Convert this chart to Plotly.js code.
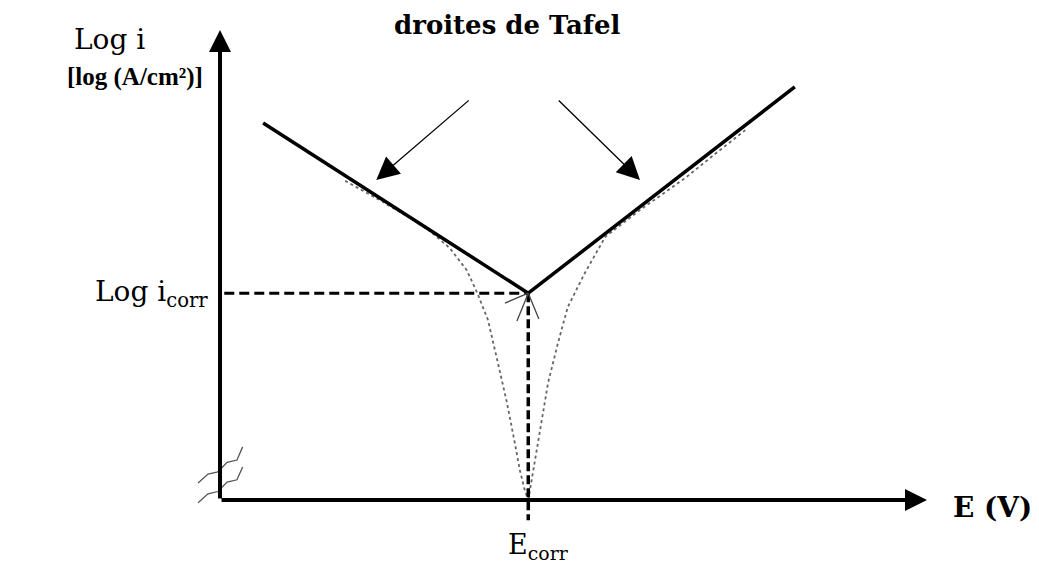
<!DOCTYPE html>
<html>
<head>
<meta charset="utf-8">
<script src="https://cdn.plot.ly/plotly-3.0.1.min.js"></script>
<style>
  html, body { margin: 0; padding: 0; background: #fff; }
  #plot { width: 1039px; height: 568px; }
</style>
</head>
<body>
<div id="plot"></div>
<script>
// corrosion point (arbitrary units, schematic)
let eCorr = 4.36;
let logICorr = 4.40;

// Tafel straight lines: cathodic (left) and anodic (right)
let arrCathE = [0.61, eCorr];
let arrCathLogI = [8.02, logICorr];
let arrAnodE = [eCorr, 8.13];
let arrAnodLogI = [logICorr, 8.79];

let arrMeasCathE = [1.77, 2.26, 2.69, 2.97, 3.25, 3.49, 3.64, 3.79, 3.93, 4.06, 4.17, 4.24, 4.31, 4.36];
let arrMeasCathLogI = [6.79, 6.38, 6.00, 5.72, 5.36, 4.89, 4.40, 3.83, 2.92, 2.06, 1.21, 0.64, 0.21, 0.00];
let arrMeasAnodE = [4.36, 4.41, 4.53, 4.64, 4.78, 4.92, 5.16, 5.45, 5.94, 6.58, 7.00, 7.43];
let arrMeasAnodLogI = [0.00, 0.43, 1.49, 2.49, 3.34, 4.11, 4.83, 5.60, 6.17, 6.85, 7.36, 7.87];

// axis ends
let axisLen = [10, 10];

// "droites de Tafel" pointer arrows: [tailE, tailLogI, tipE, tipLogI]
let arrPointerLeft = [3.54, 8.53, 2.21, 6.81];
let arrPointerRight = [4.77, 8.53, 5.94, 6.81];

// small strokes at the corrosion point
let arrVertexTicks = [[4.03, 4.19], [4.20, 3.81], [4.51, 3.85]];

// break marks on the y axis
let arrBreakE = [-0.31, -0.17, -0.03, 0.10, 0.24, 0.32];
let arrBreak1 = [0.36, 0.55, 0.60, 0.80, 0.85, 1.13];
let arrBreak2 = [-0.06, 0.13, 0.18, 0.38, 0.43, 0.70];

let fontSerif = "DejaVu Serif";

let traces = [
  {x: arrMeasCathE, y: arrMeasCathLogI, mode: "lines",
   line: {color: "#666", width: 1.8, dash: "dot"}},
  {x: arrMeasAnodE, y: arrMeasAnodLogI, mode: "lines",
   line: {color: "#666", width: 1.8, dash: "dot"}},
  {x: [0.06, eCorr], y: [logICorr, logICorr], mode: "lines",
   line: {color: "#000", width: 3, dash: "10px,5px"}},
  {x: [eCorr, eCorr], y: [logICorr, -0.43], mode: "lines",
   line: {color: "#000", width: 3.5, dash: "9px,4px"}},
  {x: arrCathE, y: arrCathLogI, mode: "lines",
   line: {color: "#000", width: 3.5}},
  {x: arrAnodE, y: arrAnodLogI, mode: "lines",
   line: {color: "#000", width: 3.5}},
  {x: arrBreakE, y: arrBreak1, mode: "lines",
   line: {color: "#555", width: 1.3}},
  {x: arrBreakE, y: arrBreak2, mode: "lines",
   line: {color: "#555", width: 1.3}}
];

arrVertexTicks.forEach(pt => {
  traces.push({x: [eCorr, pt[0]], y: [logICorr, pt[1]], mode: "lines",
    line: {color: "#444", width: 1.3}});
});

function arrowNote(tail, tip, width, size, color) {
  return {
    x: tip[0], y: tip[1], ax: tail[0], ay: tail[1],
    xref: "x", yref: "y", axref: "x", ayref: "y",
    text: "", showarrow: true, arrowhead: 2,
    arrowwidth: width, arrowsize: size, arrowcolor: color
  };
}

function label(txt, x, y, size, bold, xanchor, family) {
  return {
    x: x, y: y, xref: "x", yref: "y", showarrow: false,
    xanchor: xanchor || "center", yanchor: "middle",
    text: bold ? "<b>" + txt + "</b>" : txt,
    font: {family: family || fontSerif, size: size, color: "#000"}
  };
}

let annotations = [
  // axes
  arrowNote([0, 0], [0, axisLen[1]], 4, 1.1, "#000"),
  arrowNote([0, 0], [axisLen[0], 0], 4, 1.1, "#000"),
  // pointers
  arrowNote([arrPointerLeft[0], arrPointerLeft[1]], [arrPointerLeft[2], arrPointerLeft[3]], 1.3, 3.5, "#000"),
  arrowNote([arrPointerRight[0], arrPointerRight[1]], [arrPointerRight[2], arrPointerRight[3]], 1.3, 3.5, "#000"),
  // texts
  label("droites de Tafel", 4.06, 10.10, 26, true),
  label("Log i", -1.57, 9.79, 28, false),
  label("[log (A/cm²)]", -0.21, 9.0, 25, true, "right", "Liberation Serif"),
  label("Log i<sub>corr</sub>", -0.14, logICorr, 28, false, "right"),
  label("E<sub>corr</sub>", 4.51, -1.0, 27, false),
  label("E (V)", 10.93, -0.17, 28, true)
];

let layout = {
  width: 1039,
  height: 568,
  margin: {l: 0, r: 0, t: 0, b: 0},
  paper_bgcolor: "#fff",
  plot_bgcolor: "#fff",
  showlegend: false,
  xaxis: {range: [-3.112, 11.584], visible: false, fixedrange: true},
  yaxis: {range: [-1.447, 10.638], visible: false, fixedrange: true},
  annotations: annotations
};

Plotly.newPlot("plot", traces, layout, {staticPlot: true});
</script>
</body>
</html>
